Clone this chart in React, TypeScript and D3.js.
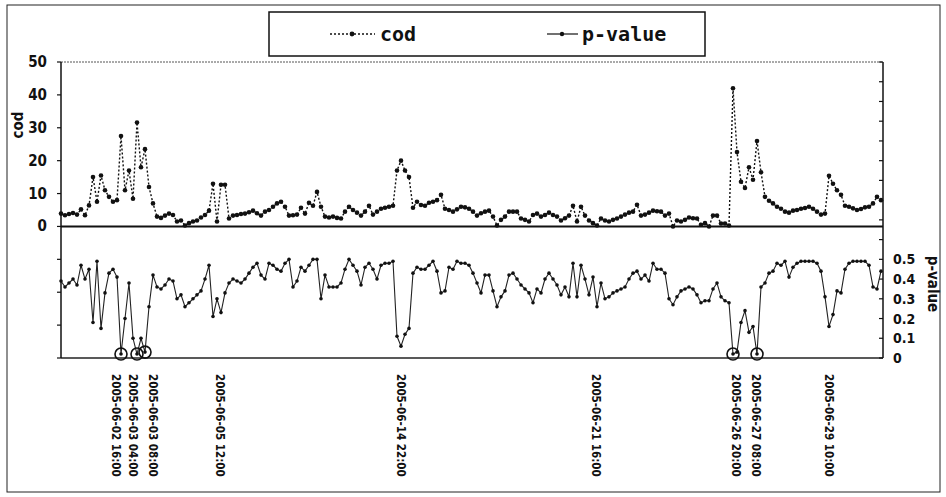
import React from "react";
import * as d3 from "d3";

// cod values (sampled evenly along the time axis)
const codValues: number[] = [
  3.9, 3.4, 3.8, 4.1, 3.6, 5.2, 3.4, 6.4, 15, 7.5,
  15.5, 11, 9, 7.5, 8, 27.5, 11, 17, 8.4, 31.6,
  18, 23.5, 12, 7, 3, 2.6, 3.3, 3.9, 3.5, 1.5,
  1.8, 0.3, 1, 1.5, 1.8, 2.7, 3.5, 4.8, 13, 1.5,
  12.7, 12.7, 2.4, 3.3, 3.5, 3.8, 3.9, 4.3, 4.8, 4,
  3.3, 4.5, 5, 6, 7, 7.5, 6, 3.3, 3.4, 3.6,
  5.7, 3.9, 7.2, 6.3, 10.5, 6, 3, 2.7, 3, 2.6,
  2.4, 4.5, 6, 5, 4.2, 3.3, 4.5, 6.3, 3.6, 4.5,
  5.4, 5.7, 6, 6.3, 17, 20, 17, 15, 5.7, 7.5,
  6.5, 6.3, 7.2, 7.5, 8, 9.6, 5.4, 5, 4.5, 5.2,
  6, 5.8, 5.4, 4.5, 3.3, 4, 4.5, 4.8, 3, 0.3,
  2, 3, 4.5, 4.5, 4.5, 2.4, 2, 1.5, 3.5, 3.9,
  3, 3.5, 4.2, 3.5, 3, 1.8, 2.5, 3.3, 6.3, 1.5,
  6, 3.3, 1.8, 1, 0.3, 2.4, 1.8, 1.5, 2, 2.4,
  3, 3.6, 4.2, 4.5, 6.6, 3.3, 3.6, 4.2, 4.8, 4.6,
  4.5, 3.3, 3.9, 0, 1.8, 1.5, 2, 2.7, 2.5, 2.4,
  0.5, 1, 0, 3.3, 3.3, 0.9, 0.9, 0.3, 42, 22.6,
  13.6, 11.7, 18, 14.2, 26, 16.5, 9, 7.8, 7, 6,
  5.4, 4.5, 4.2, 4.8, 5, 5.4, 5.6, 6, 5.4, 4.5,
  3.6, 3.9, 15.4, 13, 11, 9.6, 6.3, 6, 5.5, 5,
  5.3, 5.8, 6, 7, 9, 8,
];

// p-value values (same sampling)
const pValues: number[] = [
  0.39, 0.36, 0.38, 0.4, 0.37, 0.47, 0.4, 0.45, 0.18, 0.49,
  0.15, 0.33, 0.43, 0.45, 0.41, 0.02, 0.2, 0.38, 0.1, 0.02,
  0.1, 0.03, 0.26, 0.42, 0.36, 0.35, 0.37, 0.4, 0.39, 0.3,
  0.32, 0.26, 0.28, 0.3, 0.32, 0.34, 0.4, 0.47, 0.21, 0.3,
  0.23, 0.33, 0.38, 0.4, 0.39, 0.38, 0.4, 0.43, 0.46, 0.48,
  0.42, 0.4, 0.48, 0.47, 0.45, 0.44, 0.48, 0.5, 0.36, 0.39,
  0.46, 0.44, 0.47, 0.5, 0.5, 0.3, 0.42, 0.36, 0.36, 0.36,
  0.38, 0.45, 0.5, 0.47, 0.44, 0.37, 0.46, 0.48, 0.45, 0.4,
  0.47, 0.48, 0.48, 0.49, 0.11, 0.06, 0.12, 0.15, 0.43, 0.46,
  0.45, 0.45, 0.47, 0.49, 0.44, 0.33, 0.34, 0.46, 0.45, 0.49,
  0.48, 0.48, 0.47, 0.43, 0.38, 0.33, 0.42, 0.42, 0.34, 0.26,
  0.31, 0.34, 0.42, 0.43, 0.4, 0.37, 0.35, 0.33, 0.28, 0.35,
  0.33, 0.4, 0.43, 0.4, 0.37, 0.32, 0.36, 0.31, 0.48, 0.31,
  0.47, 0.4, 0.32, 0.41, 0.26, 0.38, 0.3, 0.31, 0.33, 0.34,
  0.35, 0.36, 0.4, 0.43, 0.44, 0.4, 0.42, 0.39, 0.48, 0.45,
  0.45, 0.43, 0.3, 0.27, 0.31, 0.34, 0.35, 0.36, 0.35, 0.32,
  0.28, 0.29, 0.29, 0.35, 0.38, 0.31, 0.29, 0.28, 0.02, 0.03,
  0.18, 0.24, 0.13, 0.16, 0.02, 0.36, 0.38, 0.43, 0.44, 0.48,
  0.47, 0.49, 0.41, 0.46, 0.48, 0.49, 0.49, 0.49, 0.49, 0.48,
  0.44, 0.31, 0.16, 0.22, 0.34, 0.33, 0.45, 0.48, 0.49, 0.49,
  0.49, 0.49, 0.47, 0.36, 0.35, 0.44,
];

// samples where p-value reaches ~0 (circled)
const circledSamples: number[] = [15, 19, 21, 168, 174];

// annotated time labels and the sample they refer to
const timeLabels: string[] = [
  "2005-06-02 16:00",
  "2005-06-03 04:00",
  "2005-06-03 08:00",
  "2005-06-05 12:00",
  "2005-06-14 22:00",
  "2005-06-21 16:00",
  "2005-06-26 20:00",
  "2005-06-27 08:00",
  "2005-06-29 10:00",
];
const timeLabelSamples: number[] = [13.5, 17.75, 22.75, 39.5, 84.75, 133.5, 168.5, 173.5, 191.75];

const codTicks: number[] = [-40, -30, -20, -10, 0, 10, 20, 30, 40, 50];
const pTicks: number[] = [0, 0.1, 0.2, 0.3, 0.4, 0.5, 0.6, 0.7, 0.8, 0.9, 1.0, 1.1, 1.2, 1.3, 1.4, 1.5];

const W = 946;
const H = 497;
const plot = { left: 61, right: 883, top: 62, bottom: 358 };
const numFont = "'DejaVu Sans Condensed', 'DejaVu Sans', sans-serif";
const monoFont = "'DejaVu Sans Mono', 'Liberation Mono', monospace";

export default function App() {
  const n = codValues.length;
  const x = d3.scaleLinear().domain([0, n - 1]).range([plot.left, plot.right - 2]);
  const yCod = d3.scaleLinear().domain([-40, 50]).range([plot.bottom, plot.top]);
  const yP = d3.scaleLinear().domain([0, 1.5]).range([plot.bottom, plot.top]);

  const codLine = d3
    .line<number>()
    .x((_, i) => x(i))
    .y((d) => yCod(d));
  const pLine = d3
    .line<number>()
    .x((_, i) => x(i))
    .y((d) => yP(d));

  const legendY = 34;

  return (
    <svg
      width={W}
      height={H}
      style={{ position: "absolute", left: 0, top: 0, background: "#fff" }}
    >
      <rect x={0} y={0} width={W} height={H} fill="#fff" />
      {/* outer frame */}
      <rect x={7} y={5} width={933} height={487} fill="none" stroke="#222" strokeWidth={1} />

      {/* legend */}
      <rect x={269} y={12} width={436} height={44} fill="#fff" stroke="#111" strokeWidth={1.5} />
      <line x1={330} x2={375} y1={legendY} y2={legendY} stroke="#111" strokeWidth={1.3} strokeDasharray="2,2" />
      <circle cx={352} cy={legendY} r={2.4} fill="#111" />
      <text x={380} y={legendY + 7} fontFamily={monoFont} fontWeight="bold" fontSize={20} fill="#111">
        cod
      </text>
      <line x1={547} x2={578} y1={legendY} y2={legendY} stroke="#111" strokeWidth={1.2} />
      <circle cx={562} cy={legendY} r={2.2} fill="#111" />
      <text x={582} y={legendY + 7} fontFamily={monoFont} fontWeight="bold" fontSize={20} fill="#111">
        p-value
      </text>

      {/* plot frame */}
      <line x1={plot.left} x2={plot.right} y1={plot.top} y2={plot.top} stroke="#555" strokeWidth={1} strokeDasharray="2,1" />
      <line x1={plot.left} x2={plot.right} y1={plot.bottom} y2={plot.bottom} stroke="#222" strokeWidth={1.5} />
      <line x1={plot.left} x2={plot.left} y1={plot.top} y2={plot.bottom} stroke="#111" strokeWidth={1.5} />
      <line x1={plot.right} x2={plot.right} y1={plot.top} y2={plot.bottom} stroke="#111" strokeWidth={1.5} />
      {/* zero line of cod axis */}
      <line x1={plot.left} x2={plot.right} y1={yCod(0)} y2={yCod(0)} stroke="#111" strokeWidth={2} />

      {/* left axis ticks and labels */}
      {codTicks.map((t) => (
        <g key={"c" + t}>
          <line x1={plot.left - 4} x2={plot.left} y1={yCod(t)} y2={yCod(t)} stroke="#111" strokeWidth={1.2} />
          {t >= 0 && (
            <text
              x={47}
              y={yCod(t) + 5}
              textAnchor="end"
              fontFamily={numFont}
              fontWeight="bold"
              fontSize={15}
              fill="#111"
            >
              {t}
            </text>
          )}
        </g>
      ))}
      <text
        transform={`translate(23, ${125}) rotate(-90)`}
        textAnchor="middle"
        fontFamily={numFont}
        fontWeight="bold"
        fontSize={15}
        fill="#111"
      >
        cod
      </text>

      {/* right axis ticks and labels */}
      {pTicks.map((t) => (
        <g key={"p" + t}>
          <line x1={plot.right - 4} x2={plot.right} y1={yP(t)} y2={yP(t)} stroke="#111" strokeWidth={1.2} />
          {t <= 0.5 + 1e-9 && (
            <text
              x={893}
              y={yP(t) + 5}
              textAnchor="start"
              fontFamily={numFont}
              fontWeight="bold"
              fontSize={14}
              fill="#111"
            >
              {t === 0 ? "0" : d3.format(".1f")(t)}
            </text>
          )}
        </g>
      ))}
      <text
        transform={`translate(928, ${284}) rotate(90)`}
        textAnchor="middle"
        fontFamily={numFont}
        fontWeight="bold"
        fontSize={15}
        fill="#111"
      >
        p-value
      </text>

      {/* cod series */}
      <path d={codLine(codValues) || ""} fill="none" stroke="#111" strokeWidth={1.4} strokeDasharray="2,2" />
      {codValues.map((v, i) => (
        <circle key={"cd" + i} cx={x(i)} cy={yCod(v)} r={2.3} fill="#111" />
      ))}

      {/* p-value series */}
      <path d={pLine(pValues) || ""} fill="none" stroke="#222" strokeWidth={1.1} />
      {pValues.map((v, i) => (
        <circle key={"pv" + i} cx={x(i)} cy={yP(v)} r={1.8} fill="#111" />
      ))}

      {/* circled near-zero p-values */}
      {circledSamples.map((s) => (
        <circle key={"o" + s} cx={x(s)} cy={yP(pValues[s])} r={6} fill="none" stroke="#111" strokeWidth={1.6} />
      ))}

      {/* time labels */}
      {timeLabels.map((lab, k) => (
        <text
          key={lab}
          transform={`translate(${x(timeLabelSamples[k])}, 374) rotate(90)`}
          dominantBaseline="middle"
          fontFamily={numFont}
          fontWeight="bold"
          fontSize={11.5}
          fill="#111"
        >
          {lab}
        </text>
      ))}
    </svg>
  );
}
